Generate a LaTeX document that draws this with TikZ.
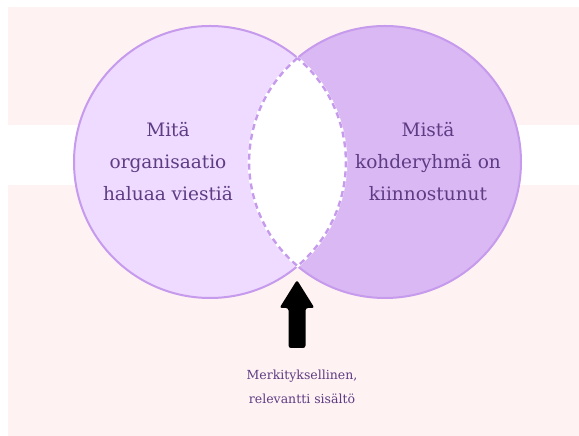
\documentclass[tikz,border=0pt]{standalone}
\usepackage{fontspec}
\setmainfont{DejaVu Serif}
\definecolor{bgpink}{HTML}{FFF2F2}
\definecolor{leftfill}{HTML}{EEDBFF}
\definecolor{rightfill}{HTML}{DAB8F3}
\definecolor{edge}{HTML}{C69AEC}
\definecolor{txt}{HTML}{5E3C84}
\begin{document}
\begin{tikzpicture}[x=1pt,y=1pt,
  circlabel/.style={align=center,text=txt,font=\fontsize{18.5}{32}\selectfont},
  notelabel/.style={align=center,text=txt,font=\fontsize{12.5}{24}\selectfont},
  outline/.style={draw=edge,line width=2pt}]
\useasboundingbox (0,0) rectangle (579,436);
\fill[bgpink] (8,0) rectangle (579,429);
\fill[white] (8,251) rectangle (579,311);
% circles
\coordinate (cl) at (210,274);
\coordinate (cr) at (385,274);
\fill[leftfill] (cl) circle[radius=136];
\fill[rightfill] (cr) circle[radius=136];
\draw[outline] (cl) circle[radius=136];
\draw[outline] (cr) circle[radius=136];
% lens
\coordinate (lt) at (297.5,378);
\fill[white,draw=white,line width=2.8pt] (lt) arc[start angle=130.1,end angle=229.9,radius=136] arc[start angle=-49.9,end angle=49.9,radius=136] -- cycle;
\draw[edge,line width=2.4pt,dash pattern=on 6pt off 4pt] (lt) arc[start angle=130.1,end angle=229.9,radius=136] arc[start angle=-49.9,end angle=49.9,radius=136];
% texts
\node[circlabel] (lefttext) at (168,274) {Mitä\\organisaatio\\haluaa viestiä};
\node[circlabel] (righttext) at (428,274) {Mistä\\kohderyhmä on\\kiinnostunut};
\node[notelabel] (note) at (302,49) {Merkityksellinen,\\relevantti sisältö};
% arrow
\coordinate (tip) at (297,156);
\fill[black,rounded corners=2.5pt] (288.5,88) -- (288.5,128) -- (279.5,128) -- (tip) -- (314.5,128) -- (305.5,128) -- (305.5,88) -- cycle;
\end{tikzpicture}
\end{document}
